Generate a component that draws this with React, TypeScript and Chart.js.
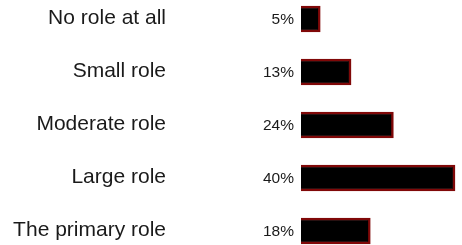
import React, { useEffect, useRef } from "react";
import { Chart, registerables } from "chart.js";

Chart.register(...registerables);

const categories = ["No role at all", "Small role", "Moderate role", "Large role", "The primary role"];
const values = [5, 13, 24, 40, 18];
const valueLabels = ["5%", "13%", "24%", "40%", "18%"];

const FONT = "'Liberation Sans', Arial, Helvetica, sans-serif";

const labelPlugin = {
  id: "rowLabels",
  afterDatasetsDraw(chart: any) {
    const ctx = chart.ctx;
    const meta = chart.getDatasetMeta(0);
    const x0 = chart.scales.x.getPixelForValue(0);
    ctx.save();
    ctx.fillStyle = "#1a1a1a";
    ctx.textAlign = "right";
    ctx.textBaseline = "middle";
    meta.data.forEach((bar: any, i: number) => {
      ctx.font = `21px ${FONT}`;
      ctx.fillText(categories[i], x0 - 135, bar.y - 1);
      ctx.font = `15.5px ${FONT}`;
      ctx.fillText(valueLabels[i], x0 - 7, bar.y + 1);
    });
    ctx.restore();
  },
};

export default function App() {
  const ref = useRef<HTMLCanvasElement>(null);
  useEffect(() => {
    const chart = new Chart(ref.current!, {
      type: "bar",
      data: {
        labels: categories,
        datasets: [
          {
            data: values,
            backgroundColor: "#000000",
            borderColor: "#800808",
            borderWidth: 2.5,
            barThickness: 26,
            clip: false as any,
          },
        ],
      },
      options: {
        indexAxis: "y",
        animation: false,
        responsive: false,
        maintainAspectRatio: false,
        layout: { padding: { top: 19, bottom: 14, left: 301, right: 7 } },
        plugins: { legend: { display: false }, tooltip: { enabled: false } },
        scales: {
          x: { display: false, min: 0, max: 40 },
          y: { display: false, offset: false },
        },
      },
      plugins: [labelPlugin],
    });
    return () => chart.destroy();
  }, []);
  return (
    <div style={{ position: "fixed", left: 0, top: 0, width: 462, height: 245, background: "#fff" }}>
      <canvas ref={ref} width={462} height={245} />
    </div>
  );
}
